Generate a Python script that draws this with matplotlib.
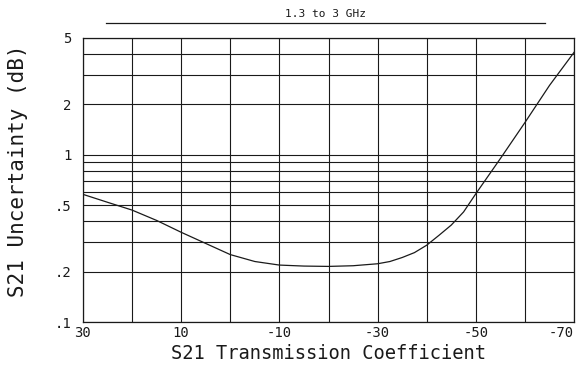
import matplotlib
matplotlib.use("Agg")
import matplotlib.pyplot as plt
from matplotlib.lines import Line2D
from matplotlib.transforms import ScaledTranslation

# S21 transmission coefficient (dB) and uncertainty (dB), 1.3 to 3 GHz
s21_db = [30, 25, 20, 15, 10, 5, 0, -5, -10, -15, -20, -25, -30, -32.5,
          -35, -37.5, -40, -42.5, -45, -47.5, -50, -55, -60, -65, -70]
uncert_db = [0.58, 0.52, 0.467, 0.405, 0.344, 0.295, 0.253, 0.230, 0.219,
             0.216, 0.215, 0.217, 0.223, 0.230, 0.243, 0.260, 0.288, 0.33,
             0.38, 0.455, 0.585, 0.95, 1.56, 2.6, 4.1]

xticks = [30, 10, -10, -30, -50, -70]
yticks = [0.1, 0.2, 0.5, 1, 2, 5]
ytick_labels = [".1", ".2", ".5", "1", "2", "5"]
ygrid = [0.3, 0.4, 0.6, 0.7, 0.8, 0.9, 3, 4]

ink = "#1a1a1a"
plt.rcParams["font.family"] = "DejaVu Sans Mono"

fig = plt.figure(figsize=(5.84, 3.68), dpi=100)
ax = fig.add_axes([0.142, 0.125, 0.841, 0.772])

ax.plot(s21_db, uncert_db, color=ink, lw=0.9)

ax.set_yscale("log")
ax.set_xlim(30, -70)
ax.set_ylim(0.1, 5)

ax.set_xticks(range(30, -71, -10), minor=True)
ax.set_xticks(xticks)
ax.set_xticklabels([str(v) for v in xticks], fontsize=10, color=ink)
ax.set_yticks(yticks)
ax.set_yticklabels(ytick_labels, fontsize=10, color=ink)
ax.set_yticks(ygrid, minor=True)
ax.yaxis.set_minor_formatter(plt.NullFormatter())

# keep the last x label inside the figure
last = ax.get_xticklabels()[-1]
last.set_horizontalalignment("right")
last.set_transform(last.get_transform() +
                   ScaledTranslation(8 / 100, 0, fig.dpi_scale_trans))

ax.tick_params(which="both", length=0)
ax.tick_params(axis="y", pad=8)
ax.tick_params(axis="x", pad=3)
ax.grid(True, which="both", color=ink, lw=0.8)
for sp in ax.spines.values():
    sp.set_color(ink)
    sp.set_linewidth(0.9)

ax.set_xlabel("S21 Transmission Coefficient", fontsize=13.5, color=ink,
              labelpad=3)
fig.text(0.031, 0.535, "S21 Uncertainty (dB)", rotation=90, fontsize=15,
         color=ink, ha="center", va="center")

# header text with a rule underneath
fig.text(0.557, 0.962, "1.3 to 3 GHz", fontsize=8, color=ink,
         ha="center", va="center")
fig.add_artist(Line2D([0.182, 0.933], [0.937, 0.937], color=ink, lw=0.9,
                      transform=fig.transFigure))

fig.savefig("out.png", dpi=100)
